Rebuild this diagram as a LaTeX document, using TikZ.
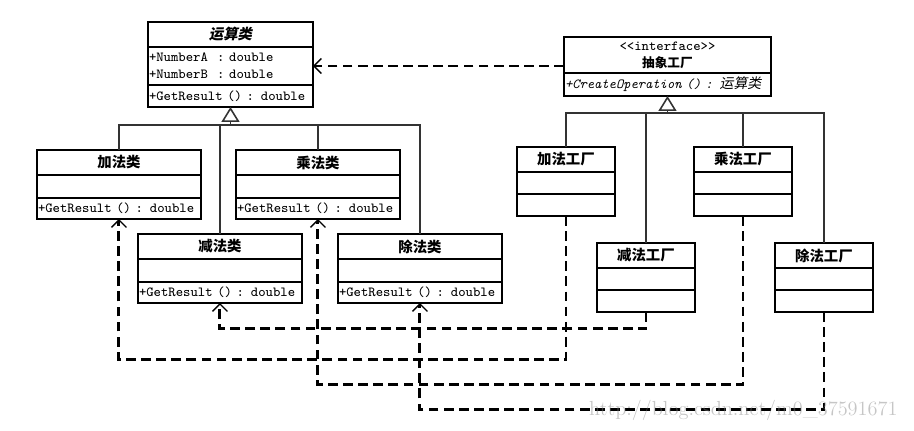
\documentclass[tikz,border=0pt]{standalone}
\usepackage{fontspec}
\newfontfamily\cjk{Noto Sans CJK SC}
\newfontfamily\cjkslant{Noto Sans CJK SC}[FakeSlant=0.2]
\usetikzlibrary{positioning, arrows.meta}

\begin{document}
\begin{tikzpicture}[x=0.02cm, y=-0.02cm,
        classpart/.style={draw, line width=1pt, outer sep=0pt, inner xsep=0.02cm, inner ysep=0pt, text width=3.24cm, align=left, anchor=north west, font=\ttfamily\fontsize{7.9}{9.6}\selectfont},
        classtitle/.style={classpart, align=center, minimum height=0.5cm, font=\cjk\bfseries\fontsize{8.2}{10}\selectfont},
        hierarchy/.style={line width=0.7pt, color=black!80},
        inherit/.style={hierarchy, -{Triangle[open, length=0.3cm, width=0.36cm, line width=0.9pt]}},
        depend/.style={line width=1.7pt, dash pattern=on 5.6pt off 3pt, -{Straight Barb[length=1.5mm, width=3mm, line width=0.8pt]}}]

        % Frame:
        \useasboundingbox (0, 0) rectangle (914, 430);

        % Abstract product:
        \node[classtitle, text width=3.26cm, font=\cjkslant\bfseries\fontsize{8.2}{10}\selectfont] (calc-title) at (148, 22) {运算类};
        \node[classpart, text width=3.26cm, minimum height=0.76cm, below=0pt of calc-title] (calc-attr) {+NumberA\ \ :\ double\\+NumberB\ \ :\ double};
        \node[classpart, text width=3.26cm, minimum height=0.44cm, below=0pt of calc-attr] (calc-method) {+GetResult () : double};

        % Abstract factory:
        \node[classpart, text width=4.1cm, align=center, minimum height=0.72cm, font=\fontsize{7.9}{9.5}\selectfont] (factory-title) at (564, 37) {\ttfamily{<}{<}interface{>}{>}\\\cjk\bfseries\fontsize{7.2}{9.5}\selectfont 抽象工厂};
        \node[classpart, text width=4.1cm, minimum height=0.46cm, below=0pt of factory-title] (factory-method) {\itshape +CreateOperation () : {\cjkslant 运算类}};

        % Products:
        \foreach \name/\x/\y/\cname in {add/37/150/加法类, mul/236/150/乘法类, sub/138/234/减法类, div/338/234/除法类}{
            \node[classtitle] (\name-title) at (\x, \y) {\cname};
            \node[classpart, minimum height=0.46cm, below=0pt of \name-title] (\name-attr) {};
            \node[classpart, minimum height=0.42cm, below=0pt of \name-attr] (\name-method) {+GetResult () : double};
        }

        % Factories:
        \foreach \name/\x/\y/\cname in {addf/517/147/加法工厂, mulf/694/147/乘法工厂, subf/597/243/减法工厂, divf/775/243/除法工厂}{
            \node[classtitle, text width=1.92cm] (\name-title) at (\x, \y) {\cname};
            \node[classpart, text width=1.92cm, minimum height=0.44cm, below=0pt of \name-title] (\name-attr) {};
            \node[classpart, text width=1.92cm, minimum height=0.44cm, below=0pt of \name-attr] (\name-method) {};
        }

        % Inheritance of products:
        \path (calc-method.south) ++(0, 18) coordinate (calc-joint);
        \draw[inherit] (calc-joint) -- (calc-method.south);
        \draw[hierarchy] (add-title.north) |- (calc-joint) -| (div-title.north);
        \foreach \name in {sub, mul}
            \draw[hierarchy] (\name-title.north) -- (\name-title.north |- calc-joint);

        % Inheritance of factories:
        \path (factory-method.south) ++(0, 17) coordinate (factory-joint);
        \draw[inherit] (factory-joint) -- (factory-method.south);
        \draw[hierarchy] (addf-title.north) |- (factory-joint) -| (divf-title.north);
        \foreach \name in {subf, mulf}
            \draw[hierarchy] (\name-title.north) -- (\name-title.north |- factory-joint);

        % Dependencies:
        \draw[depend] (factory-title.west |- calc-attr.east) -- (calc-attr.east);
        \draw[depend] (addf-method.south) -- ++(0, 144) -| (add-method.south);
        \draw[depend] (subf-method.south) -- ++(0, 17) -| (sub-method.south);
        \draw[depend] (mulf-method.south) -- ++(0, 169) -| (mul-method.south);
        \draw[depend] (divf-method.south) -- ++(0, 98) -| (div-method.south);

        % Watermark:
        \node[anchor=west, text=gray, text opacity=0.45, font=\fontsize{11.6}{14}\selectfont] (watermark) at (583, 410) {http://blog.csdn.net/m0\_37591671};
    \end{tikzpicture}
\end{document}
